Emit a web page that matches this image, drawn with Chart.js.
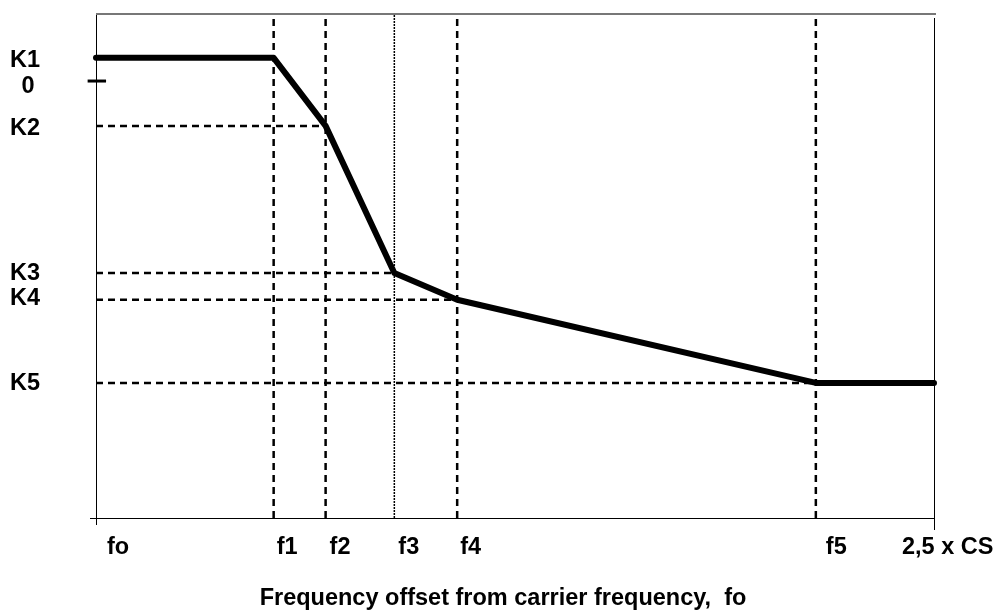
<!DOCTYPE html>
<html lang="en">
<head>
  <meta charset="UTF-8" />
  <title>Frequency offset mask</title>
  <script src="https://cdn.jsdelivr.net/npm/chart.js"></script>
  <style>
    html, body {
      margin: 0;
      padding: 0;
      background: #fff;
    }
    #wrap {
      width: 1006px;
      height: 616px;
      position: relative;
    }
  </style>
</head>
<body>
  <div id="wrap"><canvas id="maskChart"></canvas></div>

  <script>
    // x positions, in % of the span fo .. 2,5 x CS
    const xNames = ["fo", "f1", "f2", "f3", "f4", "f5", "2,5 x CS"];
    const xVals = [0, 21.2, 27.4, 35.6, 43.1, 85.9, 100];

    // y levels, in % of the plot height
    const yNames = ["K1", "0", "K2", "K3", "K4", "K5"];
    const yVals = [91.3, 86.7, 77.8, 48.6, 43.3, 26.8];

    // the mask curve
    const maskX = [0, 21.2, 27.4, 35.6, 43.1, 85.9, 100];
    const maskY = [91.3, 91.3, 77.8, 48.6, 43.3, 26.8, 26.8];

    const titleText = "Frequency offset from carrier frequency,  fo";
    const font = "bold 23.5px 'Liberation Sans', Arial, sans-serif";

    const datasets = [];

    // vertical guides at f1..f5 (f3 is a thin dotted one)
    [1, 2, 3, 4, 5].forEach(i => {
      const thin = xNames[i] === "f3";
      datasets.push({
        data: [{ x: xVals[i], y: 0 }, { x: xVals[i], y: 100 }],
        borderColor: "#000",
        borderWidth: thin ? 1.5 : 2.5,
        borderDash: thin ? [2, 1] : [7, 5],
        pointRadius: 0
      });
    });

    // horizontal guides from the y axis to the curve corner
    const hGuides = [["K2", 2], ["K3", 3], ["K4", 4], ["K5", 5]];
    hGuides.forEach(([name, xi]) => {
      const yv = yVals[yNames.indexOf(name)];
      datasets.push({
        data: [{ x: 0, y: yv }, { x: xVals[xi], y: yv }],
        borderColor: "#000",
        borderWidth: 2.5,
        borderDash: [7, 5],
        pointRadius: 0
      });
    });

    // small mark at the "0" level
    datasets.push({
      data: [{ x: -1, y: yVals[1] }, { x: 1.2, y: yVals[1] }],
      borderColor: "#000",
      borderWidth: 3,
      pointRadius: 0
    });

    // main curve
    datasets.push({
      data: maskX.map((x, i) => ({ x: x, y: maskY[i] })),
      borderColor: "#000",
      borderWidth: 6,
      borderCapStyle: "round",
      borderJoinStyle: "round",
      pointRadius: 0
    });

    // label nudges so the text sits where the original has it
    const yLabelDy = { K1: 3, "0": 5, K2: 3, K3: 0, K4: -1, K5: 1 };
    const xLabelDx = { fo: 11, f1: 3, f2: 4, f3: 4, f4: 3, f5: 10, "2,5 x CS": -32 };

    // axes frame and the text labels
    const framePlugin = {
      id: "frame",
      beforeDatasetsDraw(chart) {
        const { ctx, chartArea: a } = chart;
        ctx.save();
        ctx.lineWidth = 1;
        ctx.strokeStyle = "#000";
        ctx.beginPath();
        // left axis
        ctx.moveTo(a.left + 0.5, a.top - 1);
        ctx.lineTo(a.left + 0.5, a.bottom + 7);
        // bottom axis
        ctx.moveTo(a.left - 6, a.bottom + 0.5);
        ctx.lineTo(a.right, a.bottom + 0.5);
        // right edge
        ctx.moveTo(a.right + 0.5, a.top + 4);
        ctx.lineTo(a.right + 0.5, a.bottom + 12);
        ctx.stroke();
        ctx.strokeStyle = "#777";
        ctx.lineWidth = 2;
        ctx.beginPath();
        ctx.moveTo(a.left, a.top);
        ctx.lineTo(a.right + 2, a.top);
        ctx.stroke();
        ctx.restore();
      },
      afterDraw(chart) {
        const { ctx, chartArea: a, scales } = chart;
        ctx.save();
        ctx.font = font;
        ctx.fillStyle = "#000";
        ctx.textBaseline = "middle";
        yNames.forEach((name, i) => {
          const py = scales.y.getPixelForValue(yVals[i]) + yLabelDy[name];
          if (name === "0") {
            ctx.textAlign = "center";
            ctx.fillText(name, 28, py);
          } else {
            ctx.textAlign = "left";
            ctx.fillText(name, 10, py);
          }
        });
        ctx.textAlign = "left";
        xNames.forEach((name, i) => {
          const px = scales.x.getPixelForValue(xVals[i]);
          ctx.fillText(name, px + xLabelDx[name], a.bottom + 30);
        });
        ctx.textAlign = "center";
        ctx.fillText(titleText, 503, a.bottom + 81);
        ctx.restore();
      }
    };

    new Chart(document.getElementById("maskChart"), {
      type: "line",
      data: { datasets: datasets },
      options: {
        responsive: true,
        maintainAspectRatio: false,
        animation: false,
        layout: { padding: { left: 96, right: 72, top: 14, bottom: 98 } },
        scales: {
          x: { type: "linear", min: 0, max: 100, display: false },
          y: { type: "linear", min: 0, max: 100, display: false }
        },
        plugins: {
          legend: { display: false },
          tooltip: { enabled: false }
        },
        elements: { line: { tension: 0 } },
        clip: false
      },
      plugins: [framePlugin]
    });
  </script>
</body>
</html>
